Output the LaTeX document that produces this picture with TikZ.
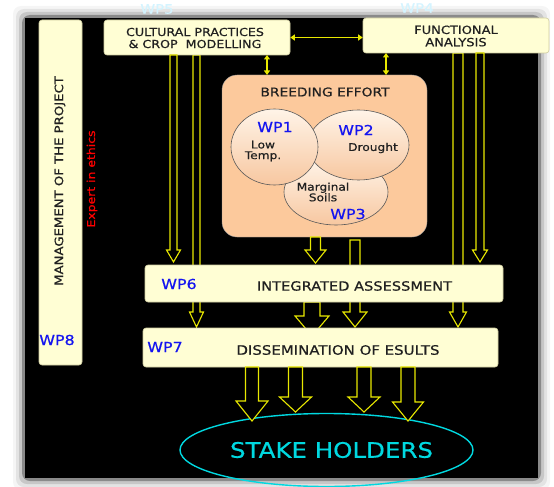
\documentclass[tikz,border=0pt]{standalone}
\usepackage{fontspec}
\setmainfont[FakeStretch=1.15,FakeBold=0.6]{DejaVu Sans}
\usetikzlibrary{arrows.meta,shapes.geometric}
\definecolor{boxfill}{HTML}{FFFED4}
\definecolor{boxline}{HTML}{CFCDA0}
\definecolor{peach}{HTML}{FCC99C}
\definecolor{ayellow}{HTML}{E8E800}
\definecolor{wpblue}{HTML}{1414F0}
\definecolor{skcyan}{HTML}{00D8E0}
\definecolor{labcyan}{HTML}{D4F4FF}
\definecolor{elltop}{HTML}{FFF4E8}
\definecolor{ellbot}{HTML}{F7C7A0}
\definecolor{txt}{HTML}{202020}
\newcommand\fs[1]{\fontsize{#1}{#1}\selectfont}
\newcommand\harrow[6]{%
  \draw[hollow] (#1-#5,#2) -- (#1-#5,#3) -- (#1-#6,#3) -- (#1,#4) -- (#1+#6,#3) -- (#1+#5,#3) -- (#1+#5,#2) -- cycle;}
\begin{document}
\begin{tikzpicture}[x=1pt,y=-1pt,
  ybox/.style={draw=boxline,fill=boxfill,rounded corners=3pt,inner sep=0pt,line width=0.6pt},
  hollow/.style={draw=ayellow,line width=1.1pt,fill=black,line join=miter},
  dbl/.style={draw=ayellow,line width=1.3pt,{Triangle[length=4.5pt,width=6pt]}-{Triangle[length=4.5pt,width=6pt]}},
  blob/.style={ellipse,draw=black!65,line width=0.6pt,top color=elltop,bottom color=ellbot,inner sep=0pt},
  wp/.style={text=wpblue,font=\fs{13.8}},
  small/.style={font=\fs{10.6},align=center,inner sep=0pt,text=txt},
  boxtxt/.style={font=\fs{11},align=center,inner sep=0pt,text=txt}]
\useasboundingbox (0,0) rectangle (554,487);
\fill[white] (0,0) rectangle (554,487);
% shadowed black background
\foreach \d/\o in {12/0.04,9/0.07,6/0.12,3/0.3}{
  \fill[black,opacity=\o,rounded corners=8pt] (25-\d,18-\d) rectangle (538+\d,478+\d);}
\fill[black] (25,18) rectangle (538,478);
% labels above boxes
\node[text=labcyan,font=\fs{13}] (l5) at (157,9) {WP5};
\node[text=labcyan,font=\fs{13}] (l4) at (417,8) {WP4};
% arrows passing behind boxes
\harrow{196.5}{55}{312}{327}{3.5}{7}
\harrow{458}{53}{312}{327}{5}{8.5}
\harrow{355}{240}{312}{327}{5}{12}
\harrow{312}{302}{316}{336}{8}{17}
% boxes
\node[ybox,minimum width=43pt,minimum height=345pt] (wp8) at (60.5,192.5) {};
\node[rotate=90,font=\fs{11.5},inner sep=0pt,text=txt] (mgt) at (60,181) {MANAGEMENT OF THE PROJECT};
\node[wp] (wp8l) at (57,340) {WP8};
\node[rotate=90,text=red,font=\fs{10.8},inner sep=0pt] (eth) at (92,179) {Expert in ethics};
\node[ybox,minimum width=186pt,minimum height=35pt] (wp5) at (197,37.5) {};
\node[boxtxt] (wp5t) at (195,38) {CULTURAL PRACTICES\\[1pt]\& CROP\ \ MODELLING};
\node[ybox,minimum width=186pt,minimum height=35pt] (wp4) at (456,35.5) {};
\node[boxtxt,font=\fs{11.3}] (wp4t) at (456,36) {FUNCTIONAL\\[1pt]ANALYSIS};
\node[draw=black!40,fill=peach,rounded corners=15pt,minimum width=205pt,minimum height=162pt] (breed) at (324.5,156) {};
\node[boxtxt,font=\fs{12}] (bt) at (325,92) {BREEDING EFFORT};
\node[blob,minimum width=104pt,minimum height=66pt] (e3) at (336,192) {};
\node[blob,minimum width=101pt,minimum height=70pt] (e2) at (358.5,145) {};
\node[blob,minimum width=87pt,minimum height=76pt] (e1) at (274.5,147) {};
\node[wp] (wp1) at (275,127) {WP1};
\node[small] (lt) at (263,151) {Low\\Temp.};
\node[wp] (wp2) at (356,130) {WP2};
\node[small] (dr) at (373,148) {Drought};
\node[small] (ms) at (323,192) {Marginal\\Soils};
\node[wp] (wp3) at (348,214) {WP3};
\node[ybox,minimum width=358pt,minimum height=37pt] (wp6) at (324,283.5) {};
\node[wp] (wp6l) at (179,284) {WP6};
\node[font=\fs{12.7},inner sep=0pt,text=txt] (ia) at (354.5,286) {INTEGRATED ASSESSMENT};
\node[ybox,minimum width=355pt,minimum height=39pt] (wp7) at (320.5,347.5) {};
\node[wp] (wp7l) at (165,347) {WP7};
\node[font=\fs{13},inner sep=0pt,text=txt] (dis) at (338,350) {DISSEMINATION OF ESULTS};
% arrows in front
\harrow{173.5}{55}{250}{262}{3.5}{7}
\harrow{480}{53}{250}{262}{4}{7.5}
\harrow{315.5}{237}{250}{263}{5}{10.5}
% double arrows
\draw[dbl] (wp5.east) -- (wp4.west |- wp5.east);
\draw[dbl] (267,55) -- (267,75);
\draw[dbl] (386,53) -- (386,75);
% stake holders
\node[ellipse,draw=skcyan,line width=1.4pt,minimum width=293pt,minimum height=73pt] (sh) at (326.5,450) {};
\node[text=skcyan,font=\fs{21.3}] (sht) at (331.5,450) {STAKE HOLDERS};
\harrow{252}{367}{401}{421}{6.5}{16}
\harrow{295.5}{367}{397}{412}{7}{16}
\harrow{364}{367}{397}{412}{7}{16}
\harrow{408}{367}{402}{421}{7}{15.5}
\end{tikzpicture}
\end{document}
